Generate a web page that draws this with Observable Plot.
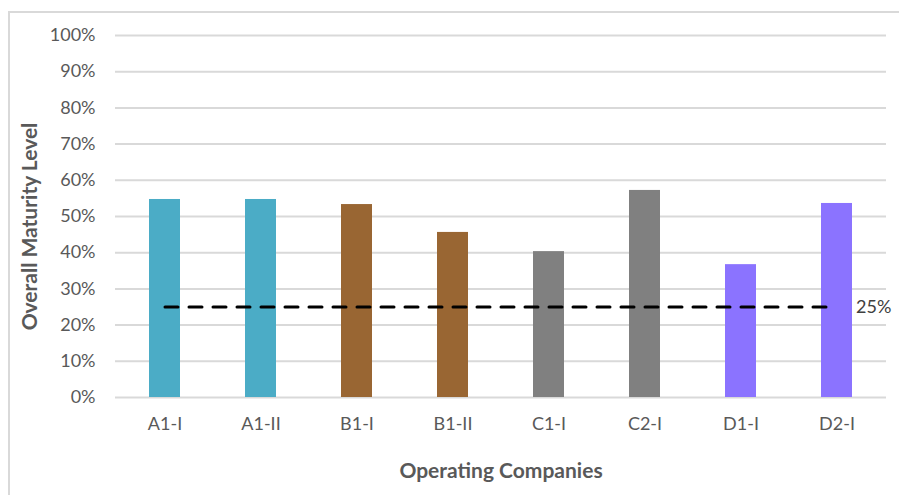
<!DOCTYPE html>
<html>
<head>
<meta charset="utf-8">
<script src="https://cdn.jsdelivr.net/npm/d3@7"></script>
<script src="https://cdn.jsdelivr.net/npm/@observablehq/plot@0.6"></script>
<style>
  html, body { margin: 0; padding: 0; background: #fff; }
  #wrap { position: relative; width: 899px; height: 495px; overflow: hidden; }
  #border { position: absolute; left: 8px; top: 11px; width: 900px; height: 500px;
            border-top: 2px solid #d9d9d9; border-left: 2px solid #d9d9d9; }
  #chart { position: absolute; left: 0; top: 0; }
</style>
</head>
<body>
<div id="wrap"><div id="border"></div><div id="chart"></div></div>
<script>
// Operating companies and their overall maturity level
const companies = ["A1-I", "A1-II", "B1-I", "B1-II", "C1-I", "C2-I", "D1-I", "D2-I"];
const maturity = [0.547, 0.547, 0.533, 0.456, 0.403, 0.572, 0.367, 0.536];
const groups = ["A", "A", "B", "B", "C", "C", "D", "D"];
const groupNames = ["A", "B", "C", "D"];
const groupColors = ["#4bacc6", "#996633", "#808080", "#8b73ff"];
const target = 0.25;
const yTicks = [0, 0.1, 0.2, 0.3, 0.4, 0.5, 0.6, 0.7, 0.8, 0.9, 1.0];

const rows = companies.map((c, i) => ({company: c, value: maturity[i], group: groups[i]}));
const targetLine = [companies[0], companies[companies.length - 1]].map(c => ({company: c, value: target}));
const pct = d3.format(".0%");

const chart = Plot.plot({
  width: 899,
  height: 495,
  marginLeft: 115,
  marginRight: 13,
  marginTop: 35,
  marginBottom: 98,
  style: {fontFamily: "Lato, sans-serif", fontSize: "18px", color: "#595959", background: "transparent"},
  x: {domain: companies, paddingInner: 0.678, paddingOuter: 0.339},
  y: {domain: [0, 1]},
  color: {domain: groupNames, range: groupColors},
  marks: [
    Plot.gridY(yTicks, {stroke: "#d9d9d9", strokeOpacity: 1, strokeWidth: 2}),
    Plot.barY(rows, {x: "company", y: "value", fill: "group"}),
    Plot.lineY(targetLine, {x: "company", y: "value", stroke: "#000", strokeWidth: 3, strokeDasharray: "13,11"}),
    Plot.text([target], {x: () => companies[companies.length - 1], y: d => d, text: d => pct(d),
      dx: 19, textAnchor: "start", fill: "#404040", fontSize: 18}),
    Plot.axisY(yTicks, {tickSize: 0, tickPadding: 20, tickFormat: pct, label: null, fill: "#595959"}),
    Plot.axisX({tickSize: 0, tickPadding: 20, label: null, fill: "#595959"}),
    Plot.text(["Overall Maturity Level"], {frameAnchor: "left", textAnchor: "middle", rotate: -90,
      dx: -85, dy: 10, fontWeight: "bold", fill: "#595959", fontSize: 21}),
    Plot.text(["Operating Companies"], {frameAnchor: "bottom", dy: 80,
      fontWeight: "bold", fill: "#595959", fontSize: 21})
  ]
});
document.getElementById("chart").appendChild(chart);
</script>
</body>
</html>
